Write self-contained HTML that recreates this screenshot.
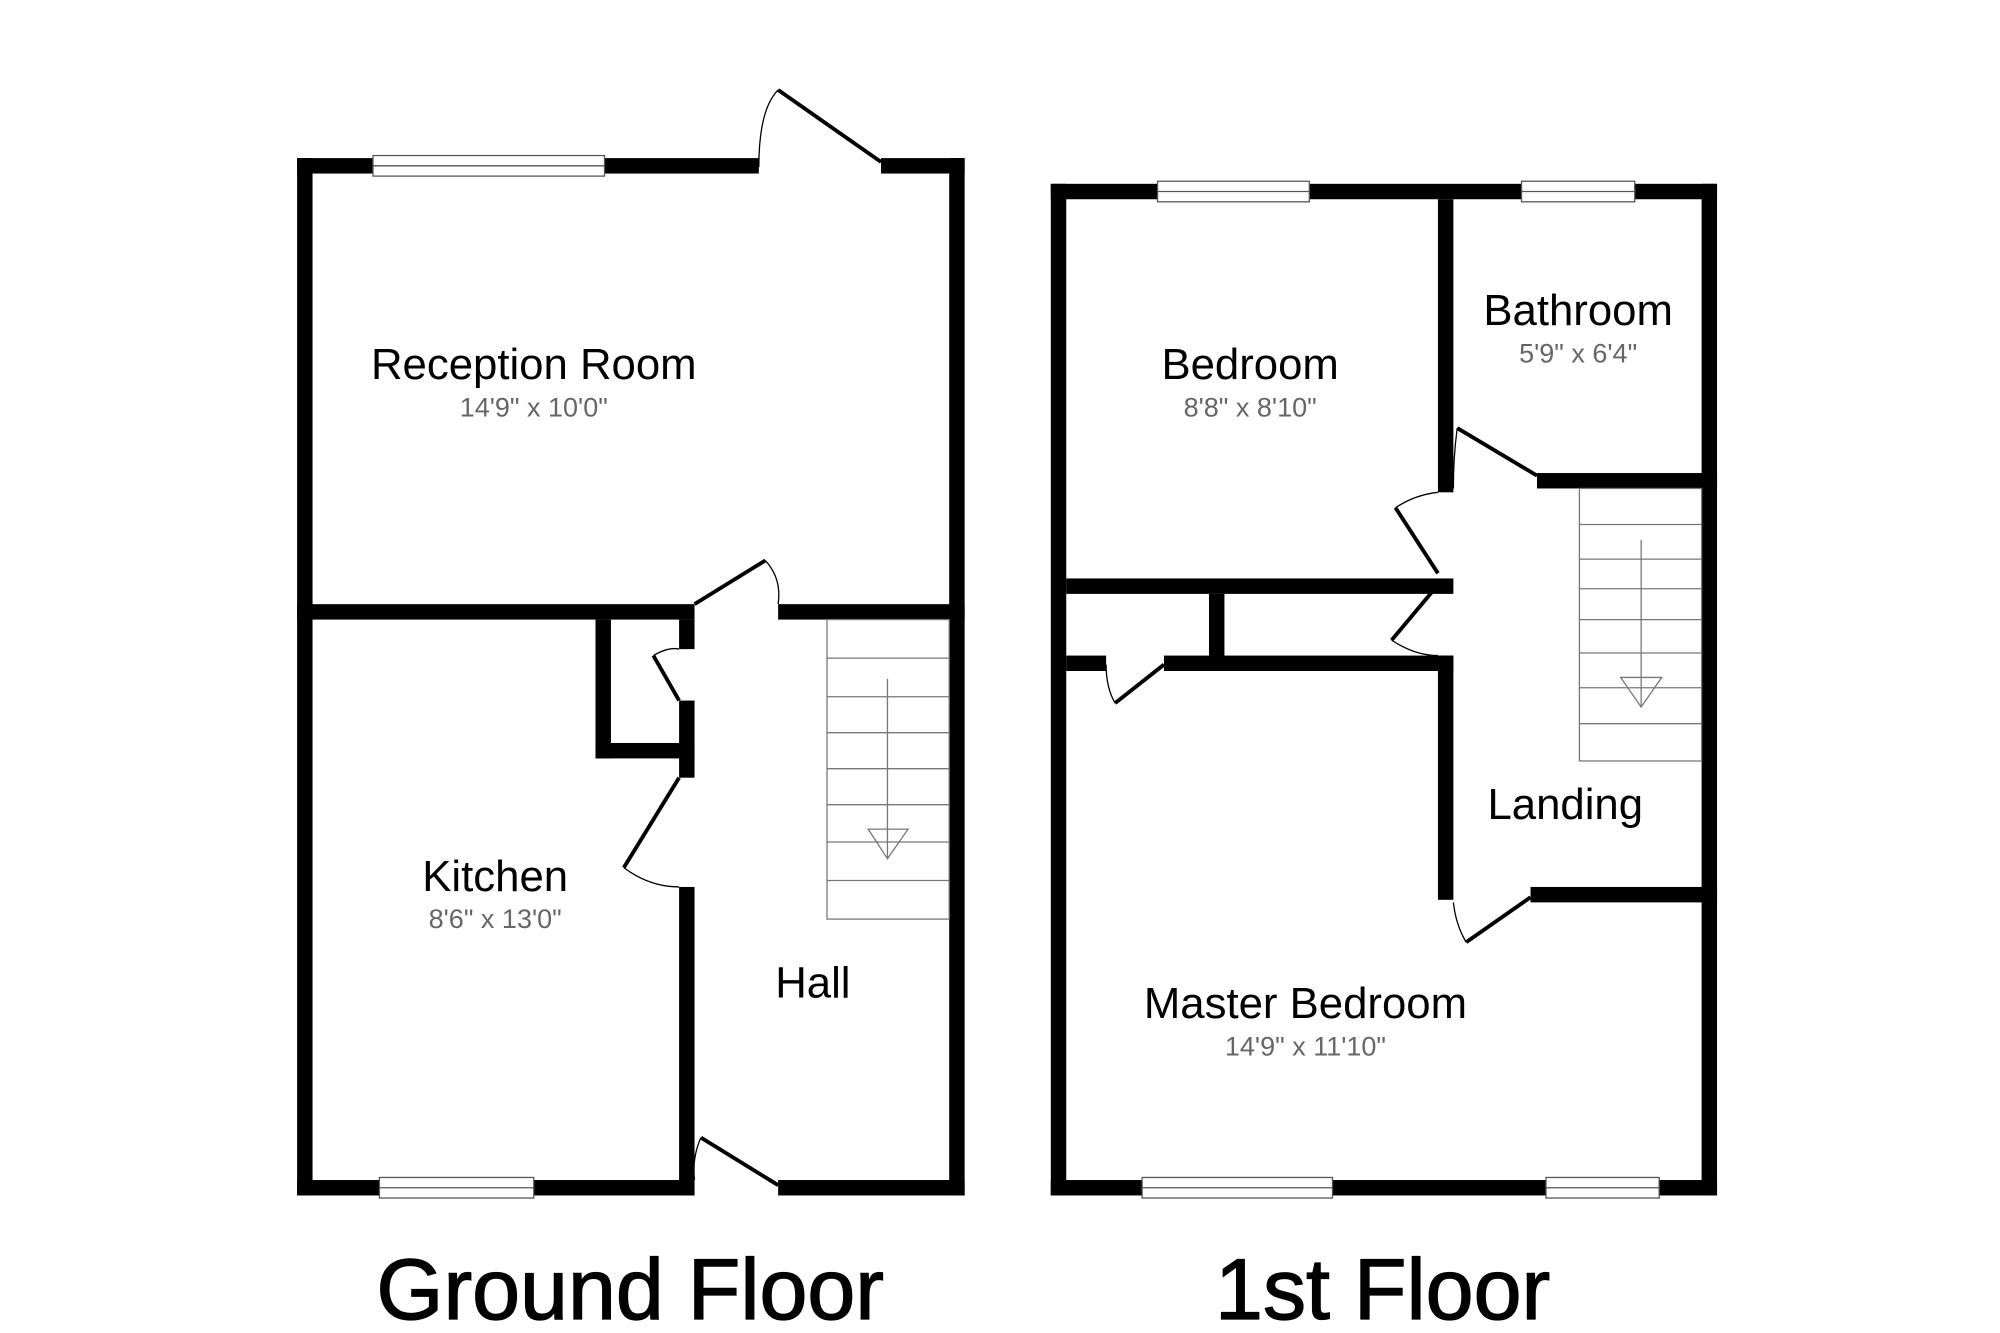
<!DOCTYPE html>
<html><head><meta charset="utf-8"><style>
html,body{margin:0;padding:0;background:#fff;}
svg{display:block;}
text{font-family:"Liberation Sans",sans-serif;}
</style></head><body>
<svg width="2000" height="1333" viewBox="0 0 1555 1037" preserveAspectRatio="none" xmlns="http://www.w3.org/2000/svg">
<rect width="1555" height="1037" fill="#fff"/>
<g fill="#000">
<rect x="231" y="123" width="359" height="12"/>
<rect x="685" y="123" width="65" height="12"/>
<rect x="231" y="123" width="12" height="807"/>
<rect x="738" y="123" width="12" height="807"/>
<rect x="231" y="918" width="309" height="12"/>
<rect x="605" y="918" width="145" height="12"/>
<rect x="231" y="470" width="309" height="12"/>
<rect x="605" y="470" width="145" height="12"/>
<rect x="463" y="482" width="12" height="108"/>
<rect x="463" y="578" width="77" height="12"/>
<rect x="528" y="482" width="12" height="23"/>
<rect x="528" y="545" width="12" height="60"/>
<rect x="528" y="690" width="12" height="240"/>
<rect x="817" y="143" width="518" height="12"/>
<rect x="817" y="143" width="12" height="787"/>
<rect x="1323" y="143" width="12" height="787"/>
<rect x="817" y="918" width="518" height="12"/>
<rect x="1118" y="155" width="12" height="228"/>
<rect x="1195" y="368" width="140" height="12"/>
<rect x="829" y="450" width="301" height="12"/>
<rect x="940" y="462" width="12" height="55"/>
<rect x="829" y="510" width="31" height="12"/>
<rect x="905" y="510" width="225" height="12"/>
<rect x="1118" y="510" width="12" height="190"/>
<rect x="1190" y="690" width="145" height="12"/>
</g>
<g fill="#fff" stroke="#555" stroke-width="1">
<rect x="290" y="121" width="180" height="16"/><line x1="290" y1="129" x2="470" y2="129"/>
<rect x="295" y="916" width="120" height="16"/><line x1="295" y1="924" x2="415" y2="924"/>
<rect x="900" y="141" width="118" height="16"/><line x1="900" y1="149" x2="1018" y2="149"/>
<rect x="1183" y="141" width="88" height="16"/><line x1="1183" y1="149" x2="1271" y2="149"/>
<rect x="888" y="916" width="148" height="16"/><line x1="888" y1="924" x2="1036" y2="924"/>
<rect x="1202" y="916" width="88" height="16"/><line x1="1202" y1="924" x2="1290" y2="924"/>
</g>
<g fill="none" stroke="#000" stroke-width="3">
<line x1="605" y1="70" x2="685" y2="126"/>
<line x1="540" y1="470" x2="595" y2="436"/>
<line x1="528" y1="545" x2="508" y2="510"/>
<line x1="528" y1="605" x2="485" y2="675"/>
<line x1="545" y1="885" x2="605" y2="922"/>
<line x1="1133" y1="333" x2="1195" y2="370"/>
<line x1="1118" y1="446" x2="1085" y2="395"/>
<line x1="1118" y1="455" x2="1082" y2="498"/>
<line x1="905" y1="517" x2="867" y2="547"/>
<line x1="1140" y1="733" x2="1190" y2="698"/>
</g>
<g fill="none" stroke="#000" stroke-width="1">
<path d="M590 130 Q590 85 605 70"/>
<path d="M595 436 Q608 450 605 470"/>
<path d="M508 510 Q520 503 528 505"/>
<path d="M485 675 Q505 690 528 690"/>
<path d="M545 885 Q538 900 540 918"/>
<path d="M1133 333 Q1130 355 1130 380"/>
<path d="M1085 395 Q1100 385 1118 383"/>
<path d="M1082 498 Q1100 510 1118 510"/>
<path d="M860 517 Q860 535 867 547"/>
<path d="M1130 702 Q1132 720 1140 733"/>
</g>
<g fill="none" stroke="#777" stroke-width="1">
<rect x="643" y="482" width="95" height="233"/>
<line x1="643" y1="512" x2="738" y2="512"/><line x1="643" y1="542" x2="738" y2="542"/>
<line x1="643" y1="570" x2="738" y2="570"/><line x1="643" y1="598" x2="738" y2="598"/>
<line x1="643" y1="626" x2="738" y2="626"/><line x1="643" y1="655" x2="738" y2="655"/>
<line x1="643" y1="685" x2="738" y2="685"/>
<line x1="690" y1="528" x2="690" y2="668"/>
<polygon points="675,645 706,645 690,668"/>
<rect x="1228" y="380" width="95" height="212"/>
<line x1="1228" y1="408" x2="1323" y2="408"/><line x1="1228" y1="435" x2="1323" y2="435"/>
<line x1="1228" y1="458" x2="1323" y2="458"/>
<line x1="1228" y1="482" x2="1323" y2="482"/><line x1="1228" y1="508" x2="1323" y2="508"/>
<line x1="1228" y1="535" x2="1323" y2="535"/><line x1="1228" y1="563" x2="1323" y2="563"/>
<line x1="1276" y1="420" x2="1276" y2="550"/>
<polygon points="1260,527 1292,527 1276,550"/>
</g>
<g text-anchor="middle" fill="#000" font-size="34">
<text x="415" y="295">Reception Room</text>
<text x="385" y="693">Kitchen</text>
<text x="632" y="776">Hall</text>
<text x="972" y="295">Bedroom</text>
<text x="1227" y="253">Bathroom</text>
<text x="1217" y="637">Landing</text>
<text x="1015" y="792">Master Bedroom</text>
</g>
<g text-anchor="middle" fill="#666" font-size="21">
<text x="415" y="324">14'9" x 10'0"</text>
<text x="385" y="722">8'6" x 13'0"</text>
<text x="972" y="324">8'8" x 8'10"</text>
<text x="1227" y="282">5'9" x 6'4"</text>
<text x="1015" y="821">14'9" x 11'10"</text>
</g>
<g text-anchor="middle" fill="#000" font-size="67" stroke="#000" stroke-width="1">
<text x="490" y="1026">Ground Floor</text>
<text x="1075" y="1026">1st Floor</text>
</g>
</svg>
</body></html>
